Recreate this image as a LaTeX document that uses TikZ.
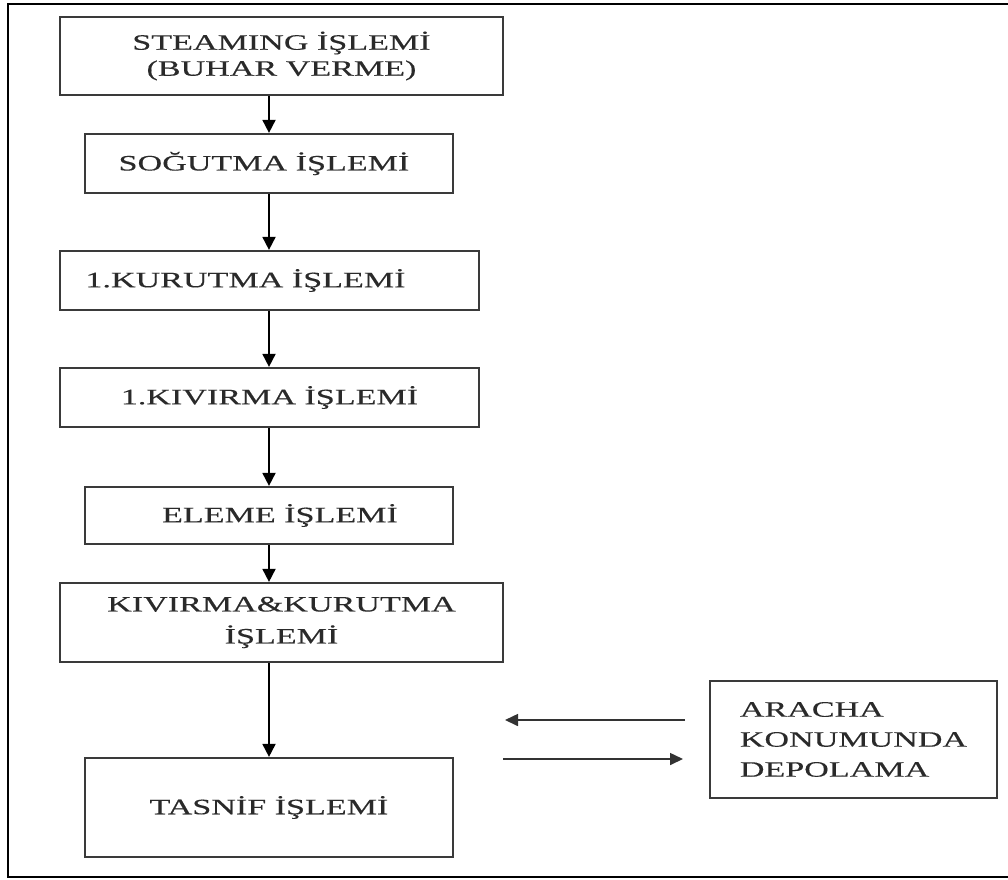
\documentclass[tikz,border=0pt]{standalone}
\usepackage{fontspec}
\setmainfont{Liberation Serif}[FakeStretch=1.55,FakeBold=0.3]
\usetikzlibrary{arrows.meta}
\definecolor{boxline}{HTML}{3A3A3A}
\definecolor{txt}{HTML}{2A2A2A}
\begin{document}
\begin{tikzpicture}[x=1pt,y=-1pt,
  procbox/.style={draw=boxline, line width=2.2pt, rectangle, inner sep=0pt,
    text=txt, align=center, font=\fontsize{22}{26}\selectfont},
  arr/.style={line width=1.8pt, draw=black, -{Triangle[length=13pt,width=13pt]}},
  harr/.style={line width=1.6pt, draw=black!80, -{Triangle[length=13pt,width=12pt]}}]
\useasboundingbox (0,0) rectangle (1008,879);
% outer frame (no right side)
\draw[line width=2pt] (1008,4) -- (8,4) -- (8,877) -- (1008,877);
% boxes
\node[procbox, minimum width=443pt, minimum height=78pt] (b1) at (281.5,56)
  {STEAMING İŞLEMİ\\(BUHAR VERME)};
\node[procbox, minimum width=368pt, minimum height=59pt] (b2) at (269,163.5)
  {SOĞUTMA İŞLEMİ\hspace{10pt}};
\node[procbox, minimum width=419pt, minimum height=59pt] (b3) at (269.5,280.5)
  {1.KURUTMA İŞLEMİ\hspace{48pt}};
\node[procbox, minimum width=419pt, minimum height=59pt] (b4) at (269.5,397.5)
  {1.KIVIRMA İŞLEMİ};
\node[procbox, minimum width=368pt, minimum height=57pt] (b5) at (269,515.5)
  {\hspace{22pt}ELEME İŞLEMİ};
\node[procbox, minimum width=443pt, minimum height=79pt,
  font=\fontsize{22}{32}\selectfont] (b6) at (281.5,622.5)
  {KIVIRMA\&KURUTMA\\İŞLEMİ};
\node[procbox, minimum width=368pt, minimum height=99pt] (b7) at (269,807.5)
  {\raisebox{-6pt}{TASNİF İŞLEMİ}};
\node[procbox, minimum width=287pt, minimum height=117pt, align=left,
  font=\fontsize{22}{30}\selectfont] (b8) at (853.5,739.5)
  {ARACHA\\KONUMUNDA\\DEPOLAMA\hspace{0pt}};
% vertical connectors
\draw[arr] (b1.south -| b2.north) -- (b2.north);
\draw[arr] (b2.south) -- (b3.north -| b2.south);
\draw[arr] (b3.south -| b2.south) -- (b4.north -| b2.south);
\draw[arr] (b4.south -| b2.south) -- (b5.north);
\draw[arr] (b5.south) -- (b6.north -| b5.south);
\draw[arr] (b6.south -| b7.north) -- (b7.north);
% horizontal connectors
\coordinate (la) at (685,720);
\coordinate (lb) at (505,720);
\coordinate (ra) at (503,759);
\coordinate (rb) at (683,759);
\draw[harr] (la) -- (lb);
\draw[harr] (ra) -- (rb);
\end{tikzpicture}
\end{document}
